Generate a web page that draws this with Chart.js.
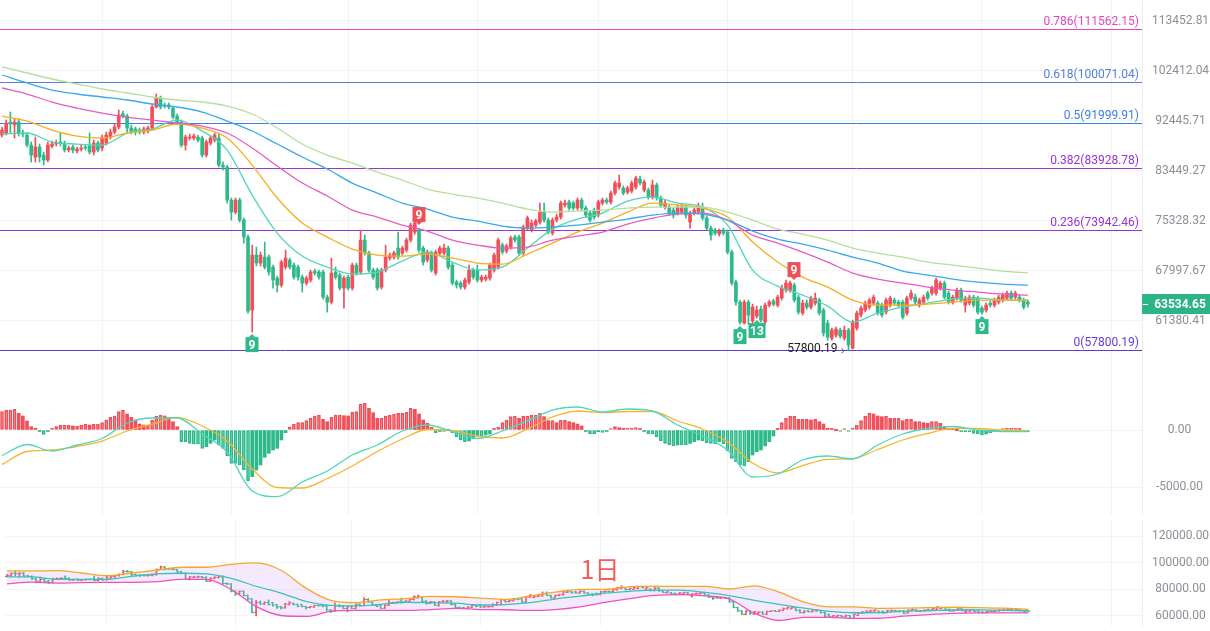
<!DOCTYPE html>
<html>
<head>
<meta charset="utf-8">
<script src="https://cdn.jsdelivr.net/npm/chart.js@4.4.0/dist/chart.umd.min.js"></script>
<style>
  html, body { margin: 0; padding: 0; background: #fff; }
  #wrap { position: relative; width: 1210px; height: 631px; overflow: hidden; }
  canvas { position: absolute; left: 0; }
</style>
</head>
<body>
<div id="wrap">
  <canvas id="mainChart" width="1210" height="368" style="top:0"></canvas>
  <canvas id="macdChart" width="1210" height="147" style="top:368px"></canvas>
  <canvas id="bollChart" width="1210" height="116" style="top:515px"></canvas>
</div>
<script>
// Daily candles (one per day)
const opens = [
  89825, 90195, 92250, 91685, 92250, 90195, 89825, 88004, 85868, 87645,
  86220, 85339, 87824, 88185, 88547, 88366, 87106, 87645, 86929, 87286,
  87645, 87824, 86752, 88366, 87465, 88366, 89458, 90379, 91310, 93773,
  93389, 91123, 90936, 90749, 90379, 90564, 91123, 95130, 96900, 95520,
  95520, 94935, 93389, 92250, 88004, 89275, 89275, 89458, 89275, 86220,
  88366, 88909, 89275, 84470, 84126, 78625, 76716, 78625, 75468, 72886,
  62759, 70247, 69105, 69960, 69960, 68541, 67013, 66059, 68541, 69529,
  68822, 68541, 67151, 66331, 66738, 67980, 67842, 67842, 64454, 63797,
  67842, 67426, 65654, 67151, 65654, 68822, 67842, 72438, 70536, 68119,
  68119, 65789, 68119, 69816, 69960, 71262, 70536, 70969, 72438, 73636,
  73937, 71262, 69529, 70536, 67703, 70536, 70536, 71262, 68822, 66466,
  66331, 65789, 66466, 68119, 68119, 66738, 66876, 67013, 68119, 68541,
  71701, 70825, 71408, 72886, 72886, 70536, 74242, 73937, 74700, 75161,
  76716, 75468, 73486, 75468, 75935, 77825, 78305, 78145, 77348, 78625,
  77348, 76560, 77030, 76246, 78145, 78625, 78305, 79762, 80749, 80583,
  79926, 80089, 80749, 82082, 80252, 80252, 79112, 81080, 78949, 77507,
  77507, 77030, 76560, 76716, 77507, 75161, 76560, 76716, 77348, 75779,
  74242, 73937, 73335, 73937, 73636, 70680, 66466, 63797, 61110, 63797,
  61361, 61993, 62888, 61236, 63406, 63928, 63406, 64322, 65384, 65384,
  66059, 64454, 62376, 63667, 63147, 63667, 64058, 62759, 61110, 59261,
  59626, 60239, 59261, 60239, 58059, 60487, 62120, 62759, 63147, 63667,
  63667, 63406, 62503, 63406, 64058, 63797, 63797, 62376, 64322, 64454,
  63406, 63797, 64984, 64984, 64984, 65654, 66331, 64984, 63797, 64322,
  65384, 63406, 63667, 64454, 64322, 63018, 62759, 63667, 63406, 63797,
  64058, 64322, 64984, 64454, 64454, 64058, 63797
];
const highs = [
  91310, 92627, 94159, 92818, 92818, 90749, 90195, 88547, 89458, 88185,
  86752, 88547, 88728, 88909, 90195, 88728, 87824, 88004, 87645, 88004,
  88004, 90195, 88909, 88728, 89825, 90379, 90936, 91873, 94545, 94352,
  93773, 91685, 91310, 91123, 91310, 91498, 95520, 97698, 97300, 95914,
  95914, 95325, 93773, 92627, 89825, 90010, 90010, 89825, 89642, 88909,
  89642, 90195, 90195, 84991, 84470, 78949, 78949, 78949, 75779, 73185,
  71701, 71408, 70680, 72143, 70247, 68822, 67288, 69529, 70969, 69816,
  69105, 68822, 67426, 67288, 68119, 68260, 68119, 68119, 64718, 69816,
  68541, 67703, 67288, 67426, 69105, 69105, 73937, 73185, 70825, 68400,
  68400, 68400, 71701, 70536, 70825, 73636, 71555, 72737, 75007, 75779,
  74242, 71555, 70969, 70825, 70969, 71555, 71848, 71555, 69105, 66738,
  66602, 67013, 68822, 68400, 68822, 67426, 67426, 69105, 70536, 72737,
  71996, 71848, 73036, 73185, 73185, 74700, 76090, 75468, 75624, 78145,
  78145, 75779, 75779, 76403, 78465, 78625, 78625, 78465, 78949, 78949,
  77666, 76873, 77348, 78625, 78949, 78949, 80089, 81746, 82758, 80914,
  80914, 81746, 82589, 82589, 81913, 80583, 81913, 81413, 79274, 78625,
  77825, 77348, 77825, 77985, 77825, 76873, 77348, 78145, 78145, 76090,
  74547, 74242, 74090, 74242, 73937, 70969, 66738, 64058, 64058, 64058,
  63536, 63277, 63277, 63667, 64058, 64190, 64718, 66059, 66738, 66602,
  66331, 64718, 64058, 64058, 64586, 64984, 64322, 63018, 61486, 60487,
  60612, 60487, 60736, 60487, 61486, 62631, 63277, 63928, 64322, 64718,
  63928, 63667, 64322, 64586, 64322, 64058, 64058, 64586, 65384, 64851,
  64322, 64718, 65251, 65924, 67013, 66602, 66602, 65251, 64718, 65654,
  65654, 64586, 64718, 64718, 64586, 63277, 63667, 63928, 64322, 64718,
  64984, 65251, 65251, 65251, 64718, 64322, 64058
];
const lows = [
  89458, 89825, 90195, 89275, 89642, 89458, 87645, 84991, 84991, 84991,
  84470, 84991, 87465, 87824, 87824, 86752, 86752, 86574, 86574, 86929,
  87106, 86397, 86220, 86752, 86929, 88004, 89092, 90010, 90936, 93008,
  90379, 90010, 89825, 90010, 90010, 90195, 90749, 94935, 94740, 94935,
  94740, 92818, 91685, 87645, 87106, 88909, 88909, 88547, 85868, 85868,
  88004, 88547, 84126, 83609, 78145, 75468, 76403, 75161, 71996, 62376,
  59994, 68681, 68681, 68260, 67426, 65654, 65118, 65789, 68260, 68260,
  66876, 66738, 65118, 66059, 66466, 67426, 66876, 64190, 62503, 63536,
  66876, 65384, 63018, 65384, 65384, 67426, 67565, 70247, 67842, 66876,
  65384, 65519, 67842, 69529, 69673, 69673, 70247, 70680, 72143, 73335,
  70680, 68822, 69246, 67842, 67426, 70247, 70247, 68260, 66059, 65654,
  65519, 65519, 66195, 66876, 66466, 66466, 66602, 66738, 67842, 68260,
  70391, 70536, 71115, 72143, 70247, 70247, 73937, 73636, 74395, 74854,
  75161, 73335, 73185, 75161, 75624, 77507, 77030, 77030, 77030, 77030,
  75935, 75161, 75624, 75935, 77825, 77985, 77985, 79436, 80418, 79436,
  79599, 79762, 80418, 81080, 79926, 78787, 78787, 78625, 77507, 77189,
  76246, 75779, 76246, 76403, 75779, 74242, 76246, 76403, 75468, 73937,
  72438, 73185, 73036, 73185, 70391, 66059, 63406, 60985, 60985, 60985,
  61110, 61740, 61236, 60985, 63147, 63277, 63147, 64058, 65118, 65118,
  63797, 62248, 62120, 62888, 62888, 63406, 62120, 59504, 59017, 59017,
  59383, 59261, 59017, 57800.19, 57940, 60239, 61866, 62503, 62888, 63406,
  62120, 61866, 62248, 63147, 63406, 63147, 61613, 62120, 64058, 63536,
  63147, 63536, 64058, 64718, 64718, 65384, 64190, 63536, 63536, 64058,
  63797, 62503, 63406, 63147, 62248, 62248, 62503, 63147, 63147, 63536,
  63797, 64058, 64058, 64190, 63797, 62888, 63147
];
const closes = [
  90749, 92062, 92062, 92250, 90195, 90010, 88004, 86220, 87645, 85868,
  85339, 88004, 88185, 88366, 88366, 87106, 87465, 87106, 87286, 87465,
  87465, 86752, 88366, 87106, 89275, 89825, 90379, 91310, 93580, 93389,
  91123, 90564, 90379, 90379, 90936, 91123, 95130, 96900, 95130, 95325,
  95130, 93199, 92062, 88004, 89458, 89458, 89642, 88909, 86220, 88547,
  89275, 89825, 84470, 84126, 78625, 76716, 78625, 75468, 72886, 62631,
  70247, 69105, 70247, 68541, 67842, 66738, 66059, 69246, 69816, 68541,
  67151, 67151, 66331, 67013, 67842, 67703, 67151, 64454, 63797, 67703,
  67151, 65654, 67013, 65654, 68822, 67703, 72438, 70536, 68119, 67151,
  65654, 68119, 69960, 70247, 70536, 69960, 71262, 72438, 74700, 75007,
  70969, 69246, 70680, 68119, 70680, 71262, 71262, 68541, 66331, 66059,
  65789, 66738, 68119, 67151, 66738, 67151, 67151, 68822, 70247, 72438,
  70680, 71555, 72737, 72438, 70536, 74395, 75779, 75007, 75314, 76716,
  75468, 73636, 75468, 75935, 78145, 78145, 77348, 77348, 78625, 77348,
  76246, 75468, 75935, 78305, 78625, 78305, 79762, 81413, 81413, 79762,
  80583, 81413, 82251, 81413, 81580, 79112, 81080, 78949, 77825, 78145,
  76560, 76246, 77507, 77507, 76246, 76560, 77030, 77348, 75779, 74242,
  73185, 73486, 73787, 73486, 70680, 66331, 63797, 61236, 63797, 62120,
  63147, 62759, 61486, 63406, 63797, 63536, 64454, 65654, 66331, 66331,
  64058, 62503, 63667, 63147, 64322, 64322, 62376, 59871, 59383, 60239,
  60363, 59504, 60239, 58416, 61236, 62376, 63018, 63667, 64058, 64454,
  62376, 62120, 64058, 64322, 63667, 63406, 61866, 64322, 64984, 63797,
  64058, 64454, 64322, 65654, 66738, 66331, 64454, 63797, 64454, 65384,
  64058, 64322, 64454, 63406, 62503, 62503, 63406, 63406, 64058, 64454,
  64718, 64984, 64322, 64984, 64058, 63147, 63534.65
];

// Moving averages and indicator lines, sampled every 6 candles
const lineIdx = [
  0, 6, 12, 18, 24, 30, 36, 42, 48, 54, 60, 66, 72, 78, 84, 90, 96, 102, 108, 114, 120,
  126, 132, 138, 144, 150, 156, 162, 168, 174, 180, 186, 192, 198, 204, 210, 216, 222, 228, 234, 240, 246
];
const maTeal = [90010, 90195, 88547, 88185, 88004, 90195, 90936, 92627, 90564, 87106, 79436, 73486, 70103, 68541, 67565, 67842, 69388, 70680, 69246, 68119, 68541, 71262, 74090, 75624, 76560, 78465, 79112, 78145, 77507, 74700, 68119, 65924, 64718, 63277, 61236, 62376, 63147, 63667, 64190, 64322, 64058, 64058];
const maOrange = [93389, 92439, 90749, 89642, 89275, 90195, 90749, 91873, 91123, 89275, 84470, 78949, 75007, 72886, 71115, 70247, 70103, 70391, 69816, 69105, 68963, 70391, 71996, 73636, 75007, 76716, 78145, 77825, 77348, 75935, 72143, 69246, 67151, 65789, 64058, 63406, 63406, 63536, 63797, 64058, 64058, 64058];
const maPink = [98905, 97698, 96110, 94935, 93966, 93199, 92627, 92062, 91498, 90195, 87465, 84298, 81413, 79274, 77030, 75935, 74700, 73787, 72438, 71701, 71262, 71408, 72438, 73036, 73636, 74854, 75779, 76403, 76560, 75468, 73185, 71996, 70680, 69246, 67703, 66876, 66331, 65789, 65384, 65118, 64851, 64718];
const maBlue = [101575, 99926, 98499, 97698, 97100, 96502, 95717, 95130, 94159, 92439, 90564, 88185, 85868, 83781, 81413, 79762, 78145, 77189, 75935, 75314, 74547, 74242, 74395, 74700, 75161, 75624, 76246, 76560, 76403, 75468, 73787, 72587, 71848, 70969, 69960, 69105, 67980, 67426, 66876, 66466, 66195, 66059];
const maGreen = [103257, 101992, 100746, 99721, 98702, 97900, 97100, 96502, 96110, 95325, 93773, 91123, 88185, 86220, 84818, 83269, 81913, 80418, 79599, 78949, 78145, 77189, 76716, 76873, 77030, 77348, 77507, 77507, 77507, 76716, 75468, 74090, 73335, 72438, 71262, 70536, 69960, 69246, 68822, 68400, 67980, 67703];

// MACD
const macdHist = [
  1608, 1754, 1754, 1813, 1462, 1228, 789, 292, 146, -88,
  -380, -58, 146, 292, 439, 439, 439, 351, 351, 439,
  526, 439, 526, 526, 643, 877, 1111, 1228, 1608, 1754,
  1404, 1111, 877, 526, 439, 439, 877, 1228, 1316, 1228,
  1111, 731, 292, -1023, -1023, -1170, -1228, -1228, -1608, -1462,
  -1170, -877, -1316, -1608, -2281, -2924, -2924, -3070, -3509, -4444,
  -4094, -3509, -3070, -2398, -2047, -1754, -1608, -877, -234, 234,
  526, 643, 643, 819, 1023, 1228, 1316, 936, 731, 1111,
  1316, 1316, 1257, 1228, 1550, 1608, 2281, 2339, 1900, 1520,
  1023, 1023, 1228, 1316, 1404, 1462, 1462, 1550, 1900, 1813,
  1404, 877, 585, 234, -234, -58, -58, 0, -234, -585,
  -877, -1023, -965, -731, -526, -526, -439, -351, 20, 234,
  643, 877, 1170, 1228, 1023, 1228, 1228, 1316, 1316, 1462,
  1170, 819, 819, 643, 877, 877, 731, 643, 526, 351,
  -58, -351, -351, -146, -205, -58, 58, 292, 205, 146,
  146, 170, 205, 117, -58, -351, -351, -585, -936, -1170,
  -1316, -1404, -1316, -1316, -1316, -1170, -1023, -877, -936, -1111,
  -1170, -1228, -1023, -1228, -1813, -2485, -2778, -3070, -3158, -2778,
  -2193, -1900, -1754, -1400, -1023, -526, 146, 643, 1023, 1228,
  1228, 936, 936, 936, 877, 936, 731, 526, 146, 58,
  0, -58, 58, -58, 146, 439, 819, 1228, 1462, 1404,
  1228, 1170, 1228, 1023, 1023, 1023, 819, 936, 936, 731,
  731, 643, 585, 731, 731, 585, 292, 146, 117, 0,
  -146, -146, -146, -292, -351, -439, -351, -234, -88, -20,
  58, 146, 146, 146, 117, -58, -146
];
const macdDif = [-2237, -1272, -1842, -1316, -746, 614, 1053, 1053, -351, -1930, -5351, -5851, -4561, -3597, -2193, -1316, -88, 439, -132, -746, -88, 789, 1754, 2018, 1579, 1842, 1667, 439, -526, -1754, -4123, -3860, -2632, -2281, -2544, -1316, -351, 132, 307, 0, -132, -149];
const macdDea = [-3026, -1886, -1754, -1447, -965, -88, 526, 1114, 351, -965, -3421, -5044, -5088, -4254, -3158, -1886, -789, 44, -44, -526, -702, 88, 1140, 1667, 1535, 1623, 1623, 789, 88, -1053, -2895, -3772, -3114, -2570, -2509, -1711, -877, -307, 149, 132, 0, -88];

// Bollinger bands
const bollUpper = [94000, 94000, 94138, 92414, 90345, 92414, 94483, 96759, 96759, 98966, 100000, 94500, 81000, 71724, 70000, 72069, 73103, 74828, 74483, 73448, 72414, 75172, 77931, 80000, 80000, 82069, 82483, 82276, 82276, 80345, 82759, 77931, 70345, 66897, 66897, 65724, 65862, 66207, 66552, 66207, 65862, 65034];
const bollMid = [89448, 89448, 87586, 87586, 87586, 89862, 91724, 92207, 91724, 88276, 82414, 77241, 71034, 67931, 67586, 68759, 70345, 70000, 69655, 68276, 68621, 70000, 72759, 74966, 77241, 78621, 79517, 79517, 77724, 75379, 71724, 68759, 65862, 63448, 62414, 62552, 63448, 63931, 64483, 64621, 64276, 63931];
const bollLower = [84138, 85517, 84828, 85172, 85310, 85310, 85862, 87586, 87586, 80000, 67241, 60345, 59655, 63448, 64138, 64138, 64138, 64828, 65724, 64828, 64690, 64138, 64828, 66897, 70207, 73103, 75517, 76069, 75172, 72759, 62069, 56552, 58966, 58966, 58138, 58276, 59793, 61034, 61931, 62276, 62276, 62276];

// Fibonacci levels
const fibRatios = ['0.786', '0.618', '0.5', '0.382', '0.236', '0'];
const fibPrices = [111562.15, 100071.04, 91999.91, 83928.78, 73942.46, 57800.19];

// TD sequential marks
const tdIndex = [60, 100, 177, 181, 190, 235];
const tdLabel = ['9', '9', '9', '13', '9', '9'];
const tdSide = ['below', 'above', 'below', 'below', 'above', 'below'];

// Axis ticks
const priceTicks = [61380.41, 67997.67, 75328.32, 83449.27, 92445.71, 102412.04, 113452.81];
const macdTicks = [0, -5000];
const bollTicks = [60000, 80000, 100000, 120000];
const monthStarts = [24, 55, 83, 114, 143, 174, 204, 235, 266];
const paneLabel = '1日';

// ---- styles ----
Chart.defaults.font.family = "Roboto, 'Noto Sans', sans-serif";
const UP = '#ef5059';
const DOWN = '#2fb98b';
const GRID = '#f3f3f3';
const TICK_COLOR = '#8b9098';
const fibColors = ['#e546be', '#4f80e2', '#3c7fea', '#9634d4', '#9634d4', '#5e3bdf'];
const X_MIN = -0.48, X_MAX = 273.38;

const colorOf = i => (closes[i] >= opens[i] ? UP : DOWN);
const candleColors = closes.map((c, i) => colorOf(i));
const linePoints = arr => lineIdx.map((x, k) => ({ x, y: arr[k] }));

function xAxis() {
  return {
    type: 'linear', min: X_MIN, max: X_MAX, bounds: 'data', offset: false,
    afterBuildTicks: s => { s.ticks = monthStarts.map(v => ({ value: v })); },
    afterFit: s => { s.height = 0; },
    ticks: { display: false },
    grid: { color: GRID, drawTicks: false, offset: false },
    border: { display: false }
  };
}

function yAxis(type, min, max, ticks, pad) {
  return {
    type, min, max, bounds: 'data', position: 'right',
    afterBuildTicks: s => { s.ticks = ticks.map(v => ({ value: v })); },
    afterFit: s => { s.width = 68; s.paddingTop = 0; s.paddingBottom = 0; },
    ticks: {
      autoSkip: false, padding: pad, crossAlign: 'center', color: TICK_COLOR,
      font: { size: 12 }, callback: v => Number(v).toFixed(2)
    },
    grid: { color: GRID, drawTicks: false },
    border: { color: '#eeeeee' }
  };
}

function baseOptions(y) {
  return {
    responsive: false, animation: false, events: [],
    layout: { padding: 0 },
    plugins: { legend: { display: false }, tooltip: { enabled: false } },
    scales: { x: xAxis(), y }
  };
}

const maLine = (arr, color) => ({
  type: 'line', data: linePoints(arr), borderColor: color, borderWidth: 1.3,
  pointRadius: 0, cubicInterpolationMode: 'monotone', fill: false, order: 0
});

// ---- plugins ----
const fibPlugin = {
  id: 'fib',
  beforeDatasetsDraw(chart) {
    const { ctx, chartArea, scales: { y } } = chart;
    ctx.save();
    ctx.font = '12px Roboto';
    ctx.textAlign = 'right';
    ctx.textBaseline = 'bottom';
    fibPrices.forEach((p, k) => {
      const py = Math.round(y.getPixelForValue(p)) + 0.5;
      ctx.strokeStyle = fibColors[k];
      ctx.lineWidth = 1;
      ctx.beginPath();
      ctx.moveTo(chartArea.left, py);
      ctx.lineTo(chartArea.right, py);
      ctx.stroke();
      ctx.fillStyle = fibColors[k];
      ctx.fillText(`${fibRatios[k]}(${p.toFixed(2)})`, chartArea.right - 3, py - 2);
    });
    ctx.restore();
  }
};

const tdPlugin = {
  id: 'td',
  afterDatasetsDraw(chart) {
    const { ctx, scales: { x, y } } = chart;
    ctx.save();
    ctx.font = 'bold 12px Roboto';
    ctx.textAlign = 'center';
    ctx.textBaseline = 'middle';
    tdIndex.forEach((i, k) => {
      const label = tdLabel[k];
      const above = tdSide[k] === 'above';
      const cx = Math.round(x.getPixelForValue(i));
      const w = label.length > 1 ? 17 : 13, h = 15;
      const top = above ? y.getPixelForValue(highs[i]) - 6 - h : y.getPixelForValue(lows[i]) + 5;
      ctx.fillStyle = above ? UP : DOWN;
      ctx.beginPath();
      if (above) { ctx.moveTo(cx - 3, top + h); ctx.lineTo(cx + 3, top + h); ctx.lineTo(cx, top + h + 3); }
      else { ctx.moveTo(cx - 3, top); ctx.lineTo(cx + 3, top); ctx.lineTo(cx, top - 3); }
      ctx.fill();
      ctx.fillRect(cx - w / 2, top, w, h);
      ctx.fillStyle = '#fff';
      ctx.fillText(label, cx, top + h / 2 + 1);
    });

    // lowest low marker
    const lowIdx = lows.indexOf(Math.min(...lows));
    const lx = x.getPixelForValue(lowIdx), ly = y.getPixelForValue(lows[lowIdx]);
    ctx.font = '12px Roboto';
    ctx.textAlign = 'right';
    ctx.fillStyle = '#222';
    ctx.fillText(lows[lowIdx].toFixed(2), lx - 11, ly - 1);
    ctx.strokeStyle = '#555';
    ctx.lineWidth = 1;
    ctx.beginPath();
    ctx.moveTo(lx - 7, ly - 2);
    ctx.lineTo(lx - 4.5, ly + 0.5);
    ctx.lineTo(lx - 7, ly + 3);
    ctx.stroke();
    ctx.restore();
  }
};

const lastPricePlugin = {
  id: 'lastPrice',
  afterDraw(chart) {
    const { ctx, chartArea, scales: { y } } = chart;
    const last = closes[closes.length - 1];
    const py = Math.round(y.getPixelForValue(last));
    ctx.save();
    ctx.fillStyle = '#2cb488';
    ctx.fillRect(chartArea.right, py - 10, chart.width - chartArea.right, 20);
    ctx.strokeStyle = '#fff';
    ctx.beginPath();
    ctx.moveTo(chartArea.right + 1, py + 0.5);
    ctx.lineTo(chartArea.right + 6, py + 0.5);
    ctx.stroke();
    ctx.fillStyle = '#fff';
    ctx.font = 'bold 12px Roboto';
    ctx.textAlign = 'center';
    ctx.textBaseline = 'middle';
    ctx.fillText(last.toFixed(2), chartArea.right + 38, py + 1);
    ctx.restore();
  }
};

const paneLabelPlugin = {
  id: 'paneLabel',
  beforeDatasetsDraw(chart) {
    const { ctx } = chart;
    ctx.save();
    ctx.font = "25px 'Noto Sans CJK SC'";
    ctx.fillStyle = '#f45d5a';
    ctx.textAlign = 'center';
    ctx.textBaseline = 'middle';
    ctx.fillText(paneLabel, 600, 54);
    ctx.restore();
  }
};

// ---- main candle chart ----
new Chart(document.getElementById('mainChart'), {
  type: 'bar',
  data: {
    datasets: [
      maLine(maGreen, '#b4df9c'),
      maLine(maBlue, '#3aa9ea'),
      maLine(maPink, '#e85bc3'),
      maLine(maOrange, '#f8ae1e'),
      maLine(maTeal, '#52d5bb'),
      {
        data: opens.map((o, i) => ({ x: i, y: [o, closes[i]] })),
        backgroundColor: candleColors, barThickness: 3, minBarLength: 1,
        grouped: false, order: 1
      },
      {
        data: lows.map((l, i) => ({ x: i, y: [l, highs[i]] })),
        backgroundColor: candleColors, barThickness: 1, grouped: false, order: 2
      }
    ]
  },
  options: baseOptions(yAxis('logarithmic', 55743, 118438, priceTicks, 10)),
  plugins: [fibPlugin, tdPlugin, lastPricePlugin]
});

// ---- MACD chart ----
const histStyle = macdHist.map((v, i) => {
  const prev = i > 0 ? Math.abs(macdHist[i - 1]) : 0;
  const hollow = Math.abs(v) >= prev;
  const base = v >= 0 ? UP : DOWN;
  const tint = v >= 0 ? 'rgba(239,80,89,0.2)' : 'rgba(47,185,139,0.2)';
  return { bg: hollow ? tint : base, border: base, bw: hollow ? 1 : 0 };
});

new Chart(document.getElementById('macdChart'), {
  type: 'bar',
  data: {
    datasets: [
      { type: 'line', data: linePoints(macdDif), borderColor: '#4fd6bd', borderWidth: 1.3, pointRadius: 0, cubicInterpolationMode: 'monotone', order: 0 },
      { type: 'line', data: linePoints(macdDea), borderColor: '#f7b52c', borderWidth: 1.3, pointRadius: 0, cubicInterpolationMode: 'monotone', order: 0 },
      {
        data: macdHist.map((v, i) => ({ x: i, y: v })),
        backgroundColor: histStyle.map(s => s.bg),
        borderColor: histStyle.map(s => s.border),
        borderWidth: histStyle.map(s => s.bw),
        borderSkipped: false, barThickness: 3, minBarLength: 1.5, grouped: false, order: 1
      }
    ]
  },
  options: baseOptions(yAxis('linear', -7456, 5439, macdTicks, 14))
});

// ---- Bollinger pane ----
new Chart(document.getElementById('bollChart'), {
  type: 'bar',
  data: {
    datasets: [
      { type: 'line', data: linePoints(bollUpper), borderColor: '#f6a629', borderWidth: 1.3, pointRadius: 0, cubicInterpolationMode: 'monotone', fill: false, order: 0 },
      { type: 'line', data: linePoints(bollMid), borderColor: '#3cc2b6', borderWidth: 1.3, pointRadius: 0, cubicInterpolationMode: 'monotone', fill: false, order: 0 },
      { type: 'line', data: linePoints(bollLower), borderColor: '#ee52bf', borderWidth: 1.3, pointRadius: 0, cubicInterpolationMode: 'monotone', fill: '-2', backgroundColor: 'rgba(206,150,245,0.2)', order: 0 },
      {
        data: lows.map((l, i) => ({ x: i, y: [l, highs[i]] })),
        backgroundColor: candleColors, barThickness: 1, grouped: false, order: 1
      },
      {
        type: 'line', showLine: false, data: opens.map((o, i) => ({ x: i, y: o })),
        pointStyle: 'dash', pointRotation: 180, pointRadius: 2, pointBorderWidth: 1,
        pointBorderColor: candleColors, order: 1
      },
      {
        type: 'line', showLine: false, data: closes.map((c, i) => ({ x: i, y: c })),
        pointStyle: 'dash', pointRotation: 0, pointRadius: 2, pointBorderWidth: 1,
        pointBorderColor: candleColors, order: 1
      }
    ]
  },
  options: baseOptions(yAxis('linear', 52414, 132414, bollTicks, 10)),
  plugins: [paneLabelPlugin]
});
</script>
</body>
</html>
